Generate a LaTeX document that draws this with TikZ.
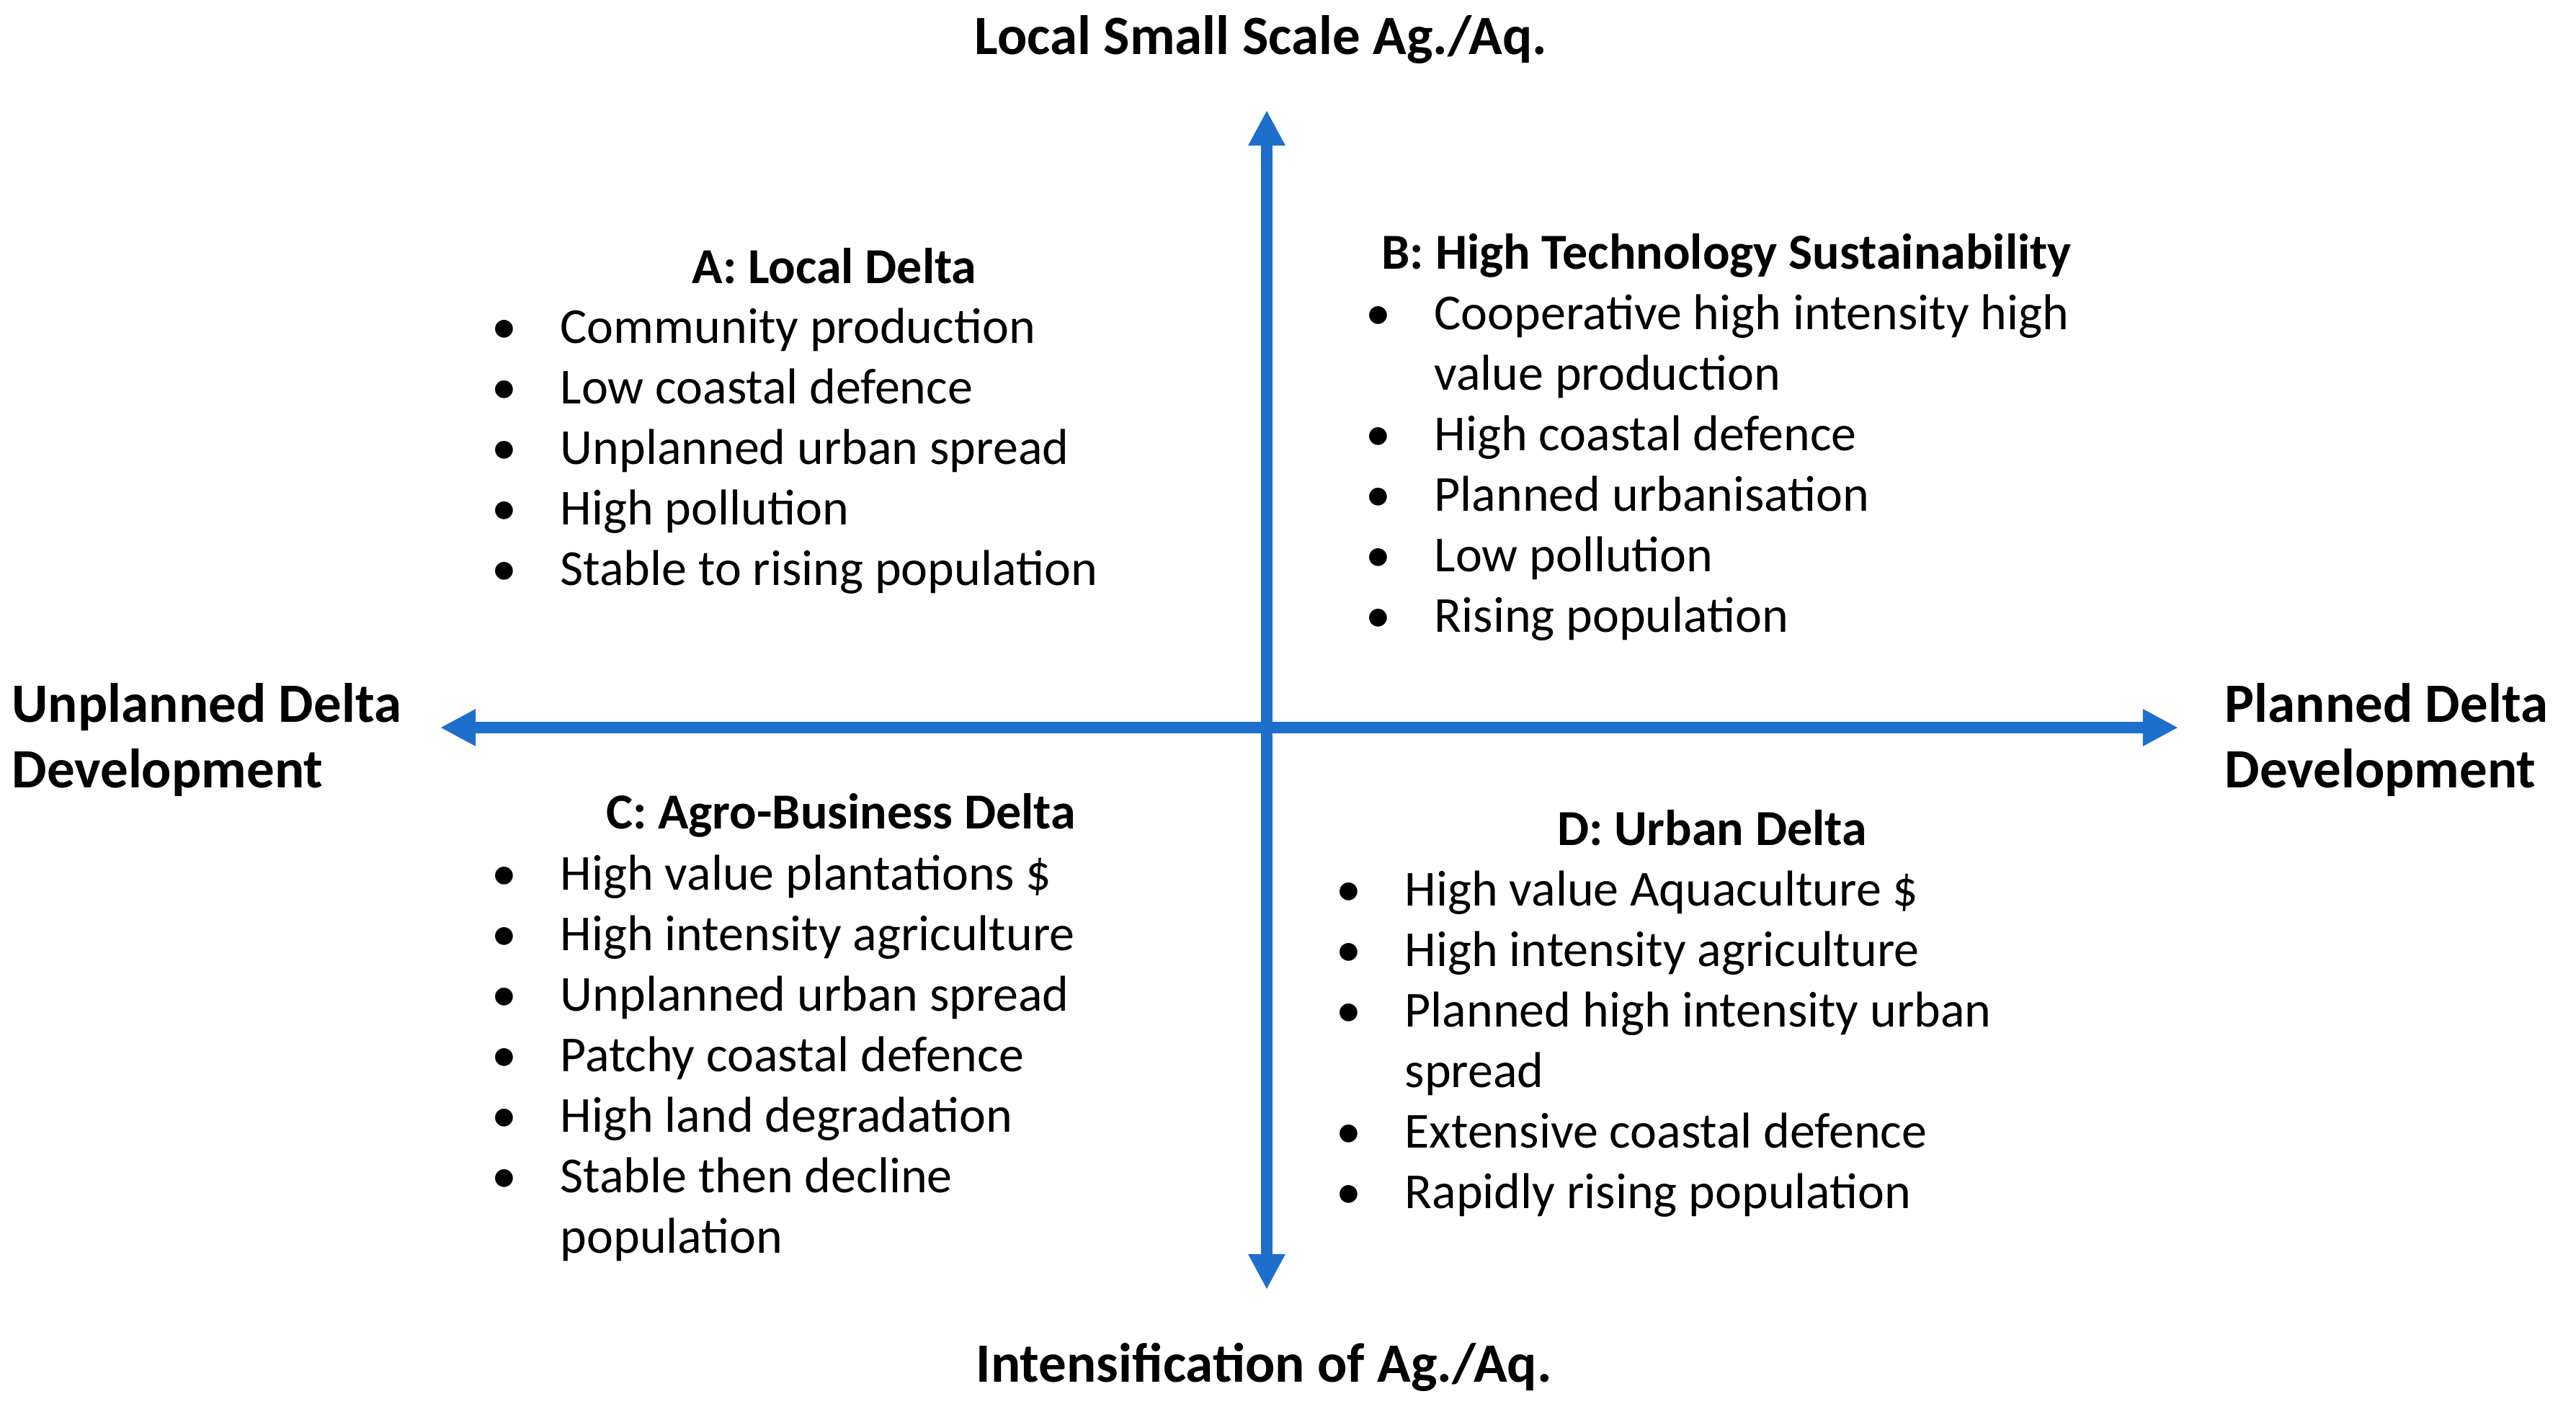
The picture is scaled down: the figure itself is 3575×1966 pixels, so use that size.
\documentclass[tikz,border=0pt]{standalone}
\usepackage{fontspec}
\setmainfont{Carlito}
\usetikzlibrary{arrows.meta}
\definecolor{axisblue}{RGB}{30,111,204}
\newcommand\bul{\llap{\textbullet\hspace{0.6cm}}}
\begin{document}
\begin{tikzpicture}[x=0.01cm,y=-0.01cm,
  axis/.style={draw=axisblue,line width=4.3pt,{Triangle[length=14pt,width=13.7pt]}-{Triangle[length=14pt,width=13.7pt]}},
  axlabel/.style={font=\fontsize{21.9}{26}\selectfont\bfseries,inner sep=0pt},
  qhead/.style={font=\fontsize{19.9}{23.9}\selectfont\bfseries,inner sep=0pt,anchor=base},
  item/.style={font=\fontsize{19.9}{23.9}\selectfont,inner sep=0pt,anchor=base west}]
\useasboundingbox (0,0) rectangle (3575,1966);
% axes
\coordinate (L) at (611,1010);
\coordinate (R) at (3023,1010);
\coordinate (T) at (1758,153);
\coordinate (B) at (1758,1790);
\draw[axis] (L) -- (R);
\draw[axis] (B) -- (T);
% axis labels
\node[axlabel,anchor=base] (top) at (1750,75) {Local Small Scale Ag./Aq.};
\node[axlabel,anchor=base] (bot) at (1754,1918) {Intensification of Ag./Aq.};
\node[axlabel,anchor=base west] (lft1) at (16,1002) {Unplanned Delta};
\node[axlabel,anchor=base west] (lft2) at (16,1093) {Development};
\node[axlabel,anchor=base west] (rgt1) at (3087,1002) {Planned Delta};
\node[axlabel,anchor=base west] (rgt2) at (3087,1093) {Development};
% quadrant A
\node[qhead] (ha) at (1158,393) {A: Local Delta};
\foreach \t/\y [count=\i] in {
  \bul Community production/476,
  \bul Low coastal defence/560,
  \bul Unplanned urban spread/644,
  \bul High pollution/728,
  \bul Stable to rising population/812}
  \node[item] (a\i) at (777,\y) {\t};
% quadrant B
\node[qhead] (hb) at (2396,373) {B: High Technology Sustainability};
\foreach \t/\y [count=\i] in {
  \bul Cooperative high intensity high/457,
  value production/541,
  \bul High coastal defence/625,
  \bul Planned urbanisation/709,
  \bul Low pollution/793,
  \bul Rising population/877}
  \node[item] (b\i) at (1990,\y) {\t};
% quadrant C
\node[qhead] (hc) at (1167,1150) {C: Agro-Business Delta};
\foreach \t/\y [count=\i] in {
  \bul High value plantations \$/1235,
  \bul High intensity agriculture/1319,
  \bul Unplanned urban spread/1403,
  \bul Patchy coastal defence/1487,
  \bul High land degradation/1571,
  \bul Stable then decline/1655,
  population/1739}
  \node[item] (c\i) at (777,\y) {\t};
% quadrant D
\node[qhead] (hd) at (2376,1173) {D: Urban Delta};
\foreach \t/\y [count=\i] in {
  \bul High value Aquaculture \$/1257,
  \bul High intensity agriculture/1341,
  \bul Planned high intensity urban/1425,
  spread/1509,
  \bul Extensive coastal defence/1593,
  \bul Rapidly rising population/1677}
  \node[item] (d\i) at (1949,\y) {\t};
\end{tikzpicture}
\end{document}
